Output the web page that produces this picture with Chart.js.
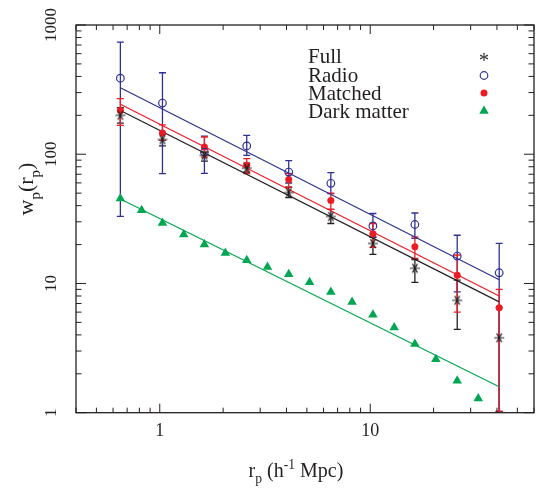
<!DOCTYPE html>
<html>
<head>
<meta charset="utf-8">
<script src="https://cdn.jsdelivr.net/npm/chart.js@4"></script>
<style>
  html, body { margin: 0; padding: 0; background: #fff; }
</style>
</head>
<body>
<canvas id="wpChart" width="540" height="493"></canvas>
<script>
// projected separation bins (h^-1 Mpc)
const rp = [0.65, 1.03, 1.63, 2.59, 4.1, 6.5, 10.3, 16.3, 25.9, 41];

// Full sample
const fullW  = [200, 130, 98, 78, 50.5, 33, 20.4, 13.1, 7.4, 3.8];
const fullHi = [229, 144, 104, 85.5, 55.7, 37.5, 22.9, 15.3, 10.6, 6.5];
const fullLo = [174, 116, 88.6, 72.8, 46.2, 29.1, 16.8, 10.2, 4.41, 1.02];

// Radio sample
const radioW  = [388, 249, 104, 116, 72.8, 59.6, 27.9, 28.6, 16.3, 12.1];
const radioHi = [736, 427, 138, 140, 89.2, 72, 34.8, 35.1, 23.6, 20.4];
const radioLo = [33.1, 70.8, 71.2, 98, 59.9, 49.6, 22.7, 22.3, 8.6, 1.02];

// Matched sample
const matchW  = [218, 146, 114, 82, 63.7, 43.8, 24.3, 19.2, 11.6, 6.5];
const matchHi = [269, 169, 136, 92.5, 70.8, 50, 29.1, 22.9, 16.6, 9];
const matchLo = [167, 128, 95, 70.8, 55.7, 37.5, 19, 15.6, 6.0, 1.03];

// Dark matter
const dmR = [0.65, 0.82, 1.03, 1.3, 1.63, 2.05, 2.59, 3.25, 4.1, 5.15, 6.5, 8.2, 10.3, 13, 16.3, 20.5, 25.9, 32.6];
const dmW = [45.4, 36.9, 29.4, 23.9, 20.0, 17.2, 15.1, 13.4, 11.8, 10.2, 8.6, 7.2, 5.72, 4.57, 3.40, 2.59, 1.77, 1.29];

// power-law fits (end points)
const fitR = [0.65, 41];
const fullFit = [218, 7.2];
const matchFit = [244, 8.0];
const radioFit = [327, 10.7];
const dmFit = [45, 1.59];

const xTicks = [1, 10];
const yTicks = [1, 10, 100, 1000];
const legendLabels = ['Full', 'Radio', 'Matched', 'Dark matter'];

const BLACK = '#231f20', BLUE = '#2e3192', RED = '#ed1c24', GREEN = '#00a651';
const SERIF = "'Liberation Serif', 'Times New Roman', serif";

function asterisk(size, color) {
    const c = document.createElement('canvas');
    c.width = c.height = size * 2 + 2;
    const g = c.getContext('2d');
    const m = size + 1;
    g.strokeStyle = color;
    g.lineWidth = 1.2;
    g.beginPath();
    [0, 60, 120].forEach(a => {
        const r = a * Math.PI / 180;
        g.moveTo(m - size * Math.cos(r), m - size * Math.sin(r));
        g.lineTo(m + size * Math.cos(r), m + size * Math.sin(r));
    });
    g.stroke();
    return c;
}
const starImg = asterisk(5, BLACK);

const pts = (xs, ys) => xs.map((x, i) => ({ x: x, y: ys[i] }));

// text with sub/superscripts: parts = [[text, mode]] mode -1 sub, 1 sup
function richText(ctx, parts, x, y, size) {
    let w = 0;
    parts.forEach(([t, m]) => {
        ctx.font = (m ? size * 0.68 : size) + 'px ' + SERIF;
        w += ctx.measureText(t).width;
    });
    let cx = x - w / 2;
    parts.forEach(([t, m]) => {
        ctx.font = (m ? size * 0.68 : size) + 'px ' + SERIF;
        const dy = m === -1 ? size * 0.3 : (m === 1 ? -size * 0.38 : 0);
        ctx.fillText(t, cx, y + dy);
        cx += ctx.measureText(t).width;
    });
}

const errorSets = [
    { y: fullLo, hi: fullHi, color: BLACK },
    { y: radioLo, hi: radioHi, color: BLUE },
    { y: matchLo, hi: matchHi, color: RED }
];

const decor = {
    id: 'decor',
    beforeDatasetsDraw(chart) {
        const { ctx, chartArea: a, scales: { x, y } } = chart;
        ctx.save();
        ctx.beginPath();
        ctx.rect(a.left, a.top, a.right - a.left, a.bottom - a.top);
        ctx.clip();
        errorSets.forEach(s => {
            ctx.strokeStyle = s.color;
            ctx.lineWidth = 1.3;
            rp.forEach((r, i) => {
                const px = x.getPixelForValue(r);
                const y1 = y.getPixelForValue(s.hi[i]);
                const y2 = y.getPixelForValue(s.y[i]);
                ctx.beginPath();
                ctx.moveTo(px, y1); ctx.lineTo(px, y2);
                ctx.moveTo(px - 3.5, y1); ctx.lineTo(px + 3.5, y1);
                ctx.moveTo(px - 3.5, y2); ctx.lineTo(px + 3.5, y2);
                ctx.stroke();
            });
        });
        ctx.restore();
    },
    afterDraw(chart) {
        const { ctx, chartArea: a, scales: { x, y } } = chart;
        ctx.save();
        // frame
        ctx.strokeStyle = BLACK;
        ctx.lineWidth = 1.3;
        ctx.strokeRect(a.left, a.top, a.right - a.left, a.bottom - a.top);
        // inner ticks
        ctx.lineWidth = 1;
        ctx.beginPath();
        for (let d = -1; d <= 1; d++) {
            for (let k = 1; k <= 9; k++) {
                const v = k * Math.pow(10, d);
                if (v < x.min || v > x.max) continue;
                const px = x.getPixelForValue(v);
                const len = k === 1 ? 9 : 5;
                ctx.moveTo(px, a.bottom); ctx.lineTo(px, a.bottom - len);
                ctx.moveTo(px, a.top); ctx.lineTo(px, a.top + len);
            }
        }
        for (let d = 0; d <= 3; d++) {
            for (let k = 1; k <= 9; k++) {
                const v = k * Math.pow(10, d);
                if (v < y.min || v > y.max) continue;
                const py = y.getPixelForValue(v);
                const len = k === 1 ? 10 : 5.5;
                ctx.moveTo(a.left, py); ctx.lineTo(a.left + len, py);
                ctx.moveTo(a.right, py); ctx.lineTo(a.right - len, py);
            }
        }
        ctx.stroke();

        ctx.fillStyle = BLACK;
        ctx.textBaseline = 'alphabetic';
        ctx.textAlign = 'left';
        // x title
        richText(ctx, [['r', 0], ['p', -1], [' (h', 0], ['-1', 1], [' Mpc)', 0]], 296, 477, 20);
        // y title
        ctx.save();
        ctx.translate(33, 189);
        ctx.rotate(-Math.PI / 2);
        richText(ctx, [['w', 0], ['p', -1], ['(r', 0], ['p', -1], [')', 0]], 0, 0, 22);
        ctx.restore();

        // legend
        const lx = 308, mx = 484;
        const base = [63, 81.5, 99.5, 117.5];
        ctx.font = '21px ' + SERIF;
        legendLabels.forEach((t, i) => ctx.fillText(t, lx, base[i]));
        ctx.font = '20px ' + SERIF;
        ctx.textAlign = 'center';
        ctx.fillText('*', mx, base[0] + 4);
        ctx.strokeStyle = BLUE;
        ctx.lineWidth = 1.2;
        ctx.beginPath(); ctx.arc(mx, base[1] - 6, 3.8, 0, Math.PI * 2); ctx.stroke();
        ctx.fillStyle = RED;
        ctx.beginPath(); ctx.arc(mx, base[2] - 6.5, 3.5, 0, Math.PI * 2); ctx.fill();
        ctx.fillStyle = GREEN;
        Chart.helpers.drawPoint(ctx, { pointStyle: 'triangle', radius: 5.5, borderWidth: 0 }, mx, base[3] - 6.5);
        ctx.restore();
    }
};

const ctx = document.getElementById('wpChart').getContext('2d');
new Chart(ctx, {
    type: 'scatter',
    data: {
        datasets: [
            {
                label: 'Full',
                data: pts(rp, fullW),
                pointStyle: starImg,
                pointRadius: 5,
                borderColor: BLACK,
                backgroundColor: BLACK
            },
            {
                label: 'Radio',
                data: pts(rp, radioW),
                pointStyle: 'circle',
                pointRadius: 3.8,
                borderWidth: 1.2,
                borderColor: BLUE,
                backgroundColor: 'rgba(0,0,0,0)'
            },
            {
                label: 'Matched',
                data: pts(rp, matchW),
                pointStyle: 'circle',
                pointRadius: 3.5,
                borderWidth: 0,
                borderColor: RED,
                backgroundColor: RED
            },
            {
                label: 'Dark matter',
                data: pts(dmR, dmW),
                pointStyle: 'triangle',
                pointRadius: 5.5,
                borderWidth: 0,
                borderColor: GREEN,
                backgroundColor: GREEN
            },
            { data: pts(fitR, radioFit), showLine: true, pointRadius: 0, borderColor: BLUE, borderWidth: 1.2 },
            { data: pts(fitR, matchFit), showLine: true, pointRadius: 0, borderColor: RED, borderWidth: 1.2 },
            { data: pts(fitR, fullFit), showLine: true, pointRadius: 0, borderColor: BLACK, borderWidth: 1.2 },
            { data: pts(fitR, dmFit), showLine: true, pointRadius: 0, borderColor: GREEN, borderWidth: 1.2 }
        ]
    },
    options: {
        responsive: false,
        animation: false,
        layout: { padding: { left: 0, right: 3, top: 25, bottom: 0 } },
        plugins: {
            legend: { display: false },
            tooltip: { enabled: false }
        },
        scales: {
            x: {
                type: 'logarithmic',
                min: 0.4,
                max: 60,
                grid: { display: false, drawTicks: false },
                border: { display: false },
                ticks: {
                    color: BLACK,
                    font: { family: SERIF, size: 18 },
                    padding: 8,
                    autoSkip: false,
                    maxRotation: 0,
                    callback: v => String(v)
                },
                afterBuildTicks: s => { s.ticks = xTicks.map(v => ({ value: v })); },
                afterFit: s => { s.height = 80.3; }
            },
            y: {
                type: 'logarithmic',
                min: 1,
                max: 1000,
                grid: { display: false, drawTicks: false },
                border: { display: false },
                ticks: {
                    color: BLACK,
                    font: { family: SERIF, size: 17 },
                    padding: 7,
                    autoSkip: false,
                    minRotation: 90,
                    maxRotation: 90,
                    crossAlign: 'center',
                    callback: v => String(v)
                },
                afterBuildTicks: s => { s.ticks = yTicks.map(v => ({ value: v })); },
                afterFit: s => { s.width = 76; }
            }
        }
    },
    plugins: [decor]
});
</script>
</body>
</html>
